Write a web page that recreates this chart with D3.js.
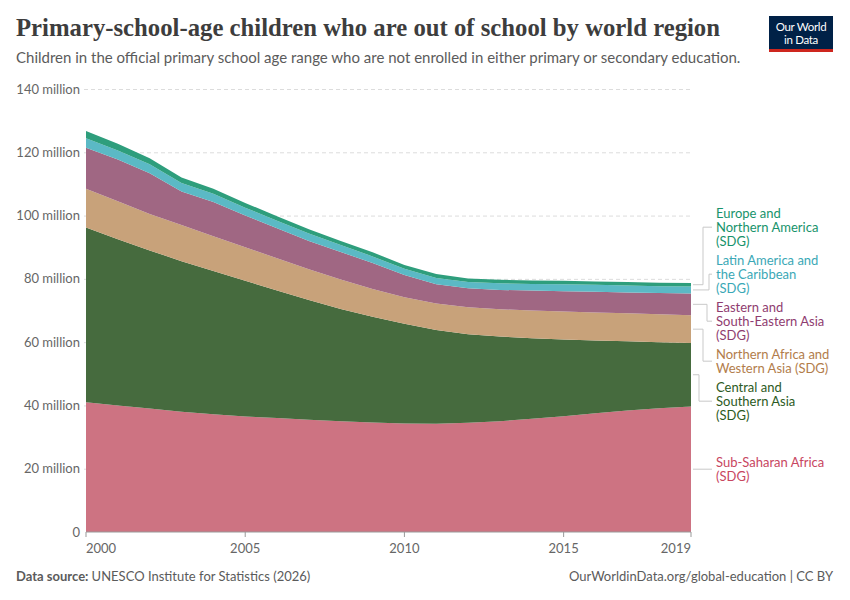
<html>
<head>
<script src="https://d3js.org/d3.v7.min.js"></script>
</head>
<style>
    body { margin: 0; background: #fff; }
    text { font-family: Lato, "Noto Sans", sans-serif; }
    .gridlines line { stroke: #dcdcdc; stroke-dasharray: 4,3; }
    .gridlines .domain { stroke: none; }
</style>
<body>
<svg id="chart" width="850" height="600"></svg>
<script>
// years on the x axis
const years = d3.range(2000, 2020);

// out-of-school children, millions
const subSaharanAfrica = [41.0, 40.0, 39.0, 38.0, 37.2, 36.5, 36.0, 35.5, 35.0, 34.6, 34.3, 34.2, 34.5, 35.0, 35.8, 36.6, 37.5, 38.4, 39.1, 39.7];
const centralSouthernAsia = [55.2, 52.5, 50.0, 47.6, 45.3, 42.9, 40.3, 37.8, 35.5, 33.4, 31.5, 29.6, 28.0, 26.8, 25.4, 24.2, 23.0, 21.9, 20.9, 20.0];
const northAfricaWestAsia = [12.3, 12.0, 11.5, 11.4, 11.0, 10.6, 10.2, 9.7, 9.3, 8.8, 8.4, 8.4, 8.5, 8.6, 8.8, 8.9, 8.9, 8.8, 8.8, 8.8];
const eastSoutheastAsia = [12.9, 13.2, 12.9, 10.6, 10.8, 10.0, 9.5, 9.0, 8.7, 8.2, 7.0, 6.1, 6.0, 6.1, 6.3, 6.4, 6.5, 6.6, 6.7, 6.9];
const latinAmerica = [3.0, 2.9, 2.8, 2.7, 2.6, 2.5, 2.4, 2.3, 2.2, 2.1, 2.0, 2.0, 2.0, 2.1, 2.1, 2.2, 2.2, 2.2, 2.2, 2.2];
const europeNorthAmerica = [2.3, 2.1, 1.9, 1.7, 1.6, 1.5, 1.4, 1.4, 1.3, 1.3, 1.2, 1.2, 1.1, 1.1, 1.1, 1.1, 1.1, 1.1, 1.1, 1.1];

const seriesKeys = ['ssa', 'csa', 'nawa', 'esea', 'lac', 'ena'];
const seriesValues = [subSaharanAfrica, centralSouthernAsia, northAfricaWestAsia, eastSoutheastAsia, latinAmerica, europeNorthAmerica];
const seriesLabels = [
    ['Sub-Saharan Africa', '(SDG)'],
    ['Central and', 'Southern Asia', '(SDG)'],
    ['Northern Africa and', 'Western Asia (SDG)'],
    ['Eastern and', 'South-Eastern Asia', '(SDG)'],
    ['Latin America and', 'the Caribbean', '(SDG)'],
    ['Europe and', 'Northern America', '(SDG)']
];
const fillColors = ['#cd7382', '#466b3e', '#c8a27a', '#a06783', '#5bb9c5', '#2e9e7c'];
const textColors = ['#c8465f', '#2c5a23', '#b27d4b', '#8f3c6f', '#3aa8b6', '#17936b'];

const yTicks = [0, 20, 40, 60, 80, 100, 120, 140];
const xTicks = [2000, 2005, 2010, 2015, 2019];

const svg = d3.select('svg#chart');

// rows for the stack
let rows = years.map((yr, i) => {
    let r = { year: yr };
    seriesKeys.forEach((k, j) => r[k] = seriesValues[j][i]);
    return r;
});
let stacked = d3.stack().keys(seriesKeys)(rows);

let x = d3.scaleLinear().domain([2000, 2019]).range([86, 691]);
let y = d3.scaleLinear().domain([0, 140]).range([532, 89]);

// header
svg.append('text')
    .attr('x', 16).attr('y', 36)
    .attr('textLength', 704).attr('lengthAdjust', 'spacingAndGlyphs')
    .style('font-family', '"Liberation Serif", "DejaVu Serif", serif')
    .style('font-size', '25px').style('font-weight', 700)
    .attr('fill', '#3d3d3d')
    .text('Primary-school-age children who are out of school by world region');

svg.append('text')
    .attr('x', 16).attr('y', 63)
    .style('font-size', '15px').attr('fill', '#5b5b5b')
    .text('Children in the official primary school age range who are not enrolled in either primary or secondary education.');

// logo
let logo = svg.append('g');
logo.append('rect').attr('x', 769).attr('y', 16).attr('width', 64).attr('height', 36).attr('fill', '#002147');
logo.append('rect').attr('x', 769).attr('y', 49).attr('width', 64).attr('height', 3).attr('fill', '#ce261e');
logo.append('text').attr('x', 801).attr('y', 31).attr('text-anchor', 'middle')
    .attr('fill', '#fff').style('font-size', '11.5px').style('letter-spacing', '-0.3px').text('Our World');
logo.append('text').attr('x', 801).attr('y', 44).attr('text-anchor', 'middle')
    .attr('fill', '#fff').style('font-size', '11.5px').style('letter-spacing', '-0.3px').text('in Data');

// gridlines
let grid = svg.append('g').attr('class', 'gridlines')
    .attr('transform', 'translate(84,0)')
    .call(d3.axisLeft(y).tickValues(yTicks.filter(t => t > 0)).tickFormat('').tickSize(-606));

// y labels
svg.append('g').selectAll('text')
    .data(yTicks)
    .join('text')
    .attr('x', 80)
    .attr('y', d => y(d) + 4.5)
    .attr('text-anchor', 'end')
    .attr('fill', '#666')
    .style('font-size', '13px')
    .text(d => d === 0 ? '0' : d + ' million');

// areas
let area = d3.area()
    .x(d => x(d.data.year))
    .y0(d => y(d[0]))
    .y1(d => y(d[1]));

svg.append('g').selectAll('path')
    .data(stacked)
    .join('path')
    .attr('d', area)
    .attr('fill', (d, i) => fillColors[i]);

// x axis
svg.append('line')
    .attr('x1', x(2000)).attr('x2', x(2019))
    .attr('y1', y(0)).attr('y2', y(0))
    .attr('stroke', '#999');

let xg = svg.append('g');
xg.selectAll('line')
    .data(xTicks)
    .join('line')
    .attr('x1', d => x(d)).attr('x2', d => x(d))
    .attr('y1', y(0)).attr('y2', y(0) + 5)
    .attr('stroke', '#999');
xg.selectAll('text')
    .data(xTicks)
    .join('text')
    .attr('x', d => x(d))
    .attr('y', 553)
    .attr('text-anchor', (d, i) => i === 0 ? 'start' : (i === xTicks.length - 1 ? 'end' : 'middle'))
    .attr('fill', '#666')
    .style('font-size', '13px')
    .text(d => d);

// labels on the right, pushed apart where they overlap
const lineH = 14, gap = 5;
let last = stacked.map((s, i) => {
    let p = s[s.length - 1];
    return { i: i, ideal: y((p[0] + p[1]) / 2), h: seriesLabels[i].length * lineH };
});
// top to bottom order
let blocks = last.slice().sort((a, b) => a.ideal - b.ideal);
let clusters = blocks.map(b => ({ items: [b] }));

function placeCluster(c) {
    let total = d3.sum(c.items, b => b.h) + gap * (c.items.length - 1);
    let top = d3.sum(c.items, b => b.ideal * b.h) / d3.sum(c.items, b => b.h) - total / 2 - 1.5;
    if (c.items.length === 1) top += 1.5;
    c.items.forEach(b => { b.top = top; b.pos = top + b.h / 2; top += b.h + gap; });
    c.top = c.items[0].top;
    c.bottom = top - gap;
}
clusters.forEach(placeCluster);
let merged = true;
while (merged) {
    merged = false;
    for (let k = 1; k < clusters.length; k++) {
        if (clusters[k - 1].bottom + gap > clusters[k].top) {
            clusters[k - 1].items = clusters[k - 1].items.concat(clusters[k].items);
            clusters.splice(k, 1);
            placeCluster(clusters[k - 1]);
            merged = true;
            break;
        }
    }
}

// elbow positions so the leader lines nest and do not cross
let ups = blocks.filter(b => b.pos < b.ideal - 0.5);
let downs = blocks.filter(b => b.pos >= b.ideal - 0.5);
ups.forEach((b, k) => b.elbow = 703 + k * 6);
downs.forEach((b, k) => b.elbow = 707 - k * 4);

let labels = svg.append('g');
blocks.forEach(b => {
    labels.append('path')
        .attr('d', `M693,${b.ideal}H${b.elbow}V${b.pos}H712`)
        .attr('fill', 'none')
        .attr('stroke', '#c9c9c9')
        .attr('stroke-width', 1);
    let t = labels.append('text')
        .attr('x', 716)
        .attr('fill', textColors[b.i])
        .style('font-size', '13px');
    seriesLabels[b.i].forEach((ln, j) => {
        t.append('tspan')
            .attr('x', 716)
            .attr('y', b.top + lineH / 2 + 4.5 + j * lineH)
            .text(ln);
    });
});

// footer
let src = svg.append('text').attr('x', 16).attr('y', 581).style('font-size', '13px').attr('fill', '#5b5b5b');
src.append('tspan').style('font-weight', 700).text('Data source: ');
src.append('tspan').text('UNESCO Institute for Statistics (2026)');

svg.append('text')
    .attr('x', 833).attr('y', 581)
    .attr('text-anchor', 'end')
    .style('font-size', '13px').attr('fill', '#5b5b5b')
    .text('OurWorldinData.org/global-education | CC BY');
</script>
</body>
</html>
